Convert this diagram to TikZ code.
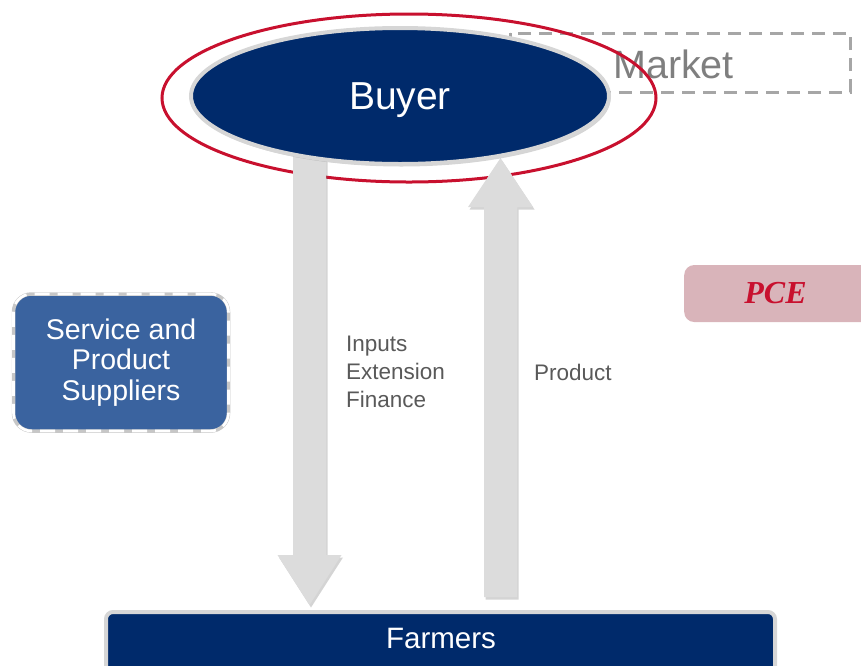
\documentclass[tikz,border=0pt]{standalone}
\usepackage{fontspec}
\setmainfont{Liberation Sans}
\newfontfamily\pcefont{Liberation Serif}
\usetikzlibrary{shapes.geometric,shadows,calc}
\definecolor{navy}{HTML}{002A6B}
\definecolor{rimgray}{HTML}{D6D6D6}
\definecolor{arrowgray}{HTML}{DCDCDC}
\definecolor{ringred}{HTML}{C8102E}
\definecolor{steel}{HTML}{3A639F}
\definecolor{pcefill}{HTML}{D9B4BA}
\definecolor{marketgray}{HTML}{7F7F7F}
\definecolor{dashgray}{HTML}{A6A6A6}
\definecolor{labelgray}{HTML}{595959}
\tikzset{
  softshadow/.style={drop shadow={opacity=0.28, shadow xshift=1.5pt, shadow yshift=-2.5pt, fill=black!60}},
  arrowfill/.style={fill=arrowgray, softshadow},
  navyshape/.style={fill=navy, draw=rimgray, softshadow},
  labeltext/.style={text=labelgray, inner sep=0pt, anchor=west, align=left,
    font=\fontsize{22.5}{28}\selectfont},
}
\begin{document}
\begin{tikzpicture}[x=1pt,y=-1pt]
\useasboundingbox (0,0) rectangle (861,665);

% Market frame
\draw[dashgray, line width=3pt, dash pattern=on 13pt off 8pt] (510,33) rectangle (850,92);
\node[anchor=west, inner sep=0pt, text=marketgray, font=\fontsize{39.5}{48}\selectfont] (market) at (613,64) {Market};

% red ring
\node[ellipse, draw=ringred, line width=3pt, minimum width=494pt, minimum height=168pt, inner sep=0pt] (ring) at (409,98) {};

% arrows
\coordinate (inTop) at (309.5,150);
\coordinate (inTip) at (309.5,605);
\coordinate (outTip) at (500.5,158);
\coordinate (outBase) at (500.5,597);
\fill[arrowfill] ($(inTop)+(-16.5,0)$) -- ($(inTip)+(-16.5,-50)$) -- ($(inTip)+(-32,-50)$) -- (inTip)
  -- ($(inTip)+(32,-50)$) -- ($(inTip)+(16.5,-50)$) -- ($(inTop)+(16.5,0)$) -- cycle;
\fill[arrowfill] ($(outBase)+(-16.5,0)$) -- ($(outTip)+(-16.5,49)$) -- ($(outTip)+(-32.5,49)$) -- (outTip)
  -- ($(outTip)+(32.5,49)$) -- ($(outTip)+(16.5,49)$) -- ($(outBase)+(16.5,0)$) -- cycle;

% Buyer
\node[ellipse, navyshape, line width=4pt, minimum width=418pt, minimum height=136pt, inner sep=0pt,
  text=white, text depth=0pt, font=\fontsize{39}{46}\selectfont] (buyer) at (400,96) {Buyer};

% Farmers
\node[rectangle, navyshape, rounded corners=7pt, line width=4pt, minimum width=669pt, minimum height=90pt,
  anchor=north, inner sep=0pt] (farmers) at (440.5,610) {};
\node[text=white, inner sep=0pt, font=\fontsize{29.5}{35}\selectfont] (farmerslabel) at (441,638) {Farmers};

% Service and Product Suppliers
\node[rectangle, rounded corners=18pt, minimum width=215pt, minimum height=137pt, inner sep=0pt,
  fill=steel, draw=black!22, line width=3.5pt,
  drop shadow={opacity=0.18, shadow xshift=1pt, shadow yshift=-1.5pt, fill=black!50},
  postaction={draw=white, line width=2.6pt, dash pattern=on 15pt off 8pt},
  text=white, align=center, font=\fontsize{28.5}{30.5}\selectfont] (suppliers) at (121,362.5)
  {Service and\\Product\\Suppliers};

% PCE
\node[rectangle, rounded corners=10pt, fill=pcefill, minimum width=220pt, minimum height=57pt,
  inner sep=0pt, anchor=west] (pcebox) at (684,293.5) {};
\node[text=ringred, inner sep=0pt, font=\pcefont\bfseries\itshape\fontsize{32}{38}\selectfont] (pce) at (775.5,293.5) {PCE};

% labels
\node[labeltext] (inputs) at (346,372) {Inputs\\Extension\\Finance};
\node[labeltext] (product) at (534,372) {Product};

\end{tikzpicture}
\end{document}
